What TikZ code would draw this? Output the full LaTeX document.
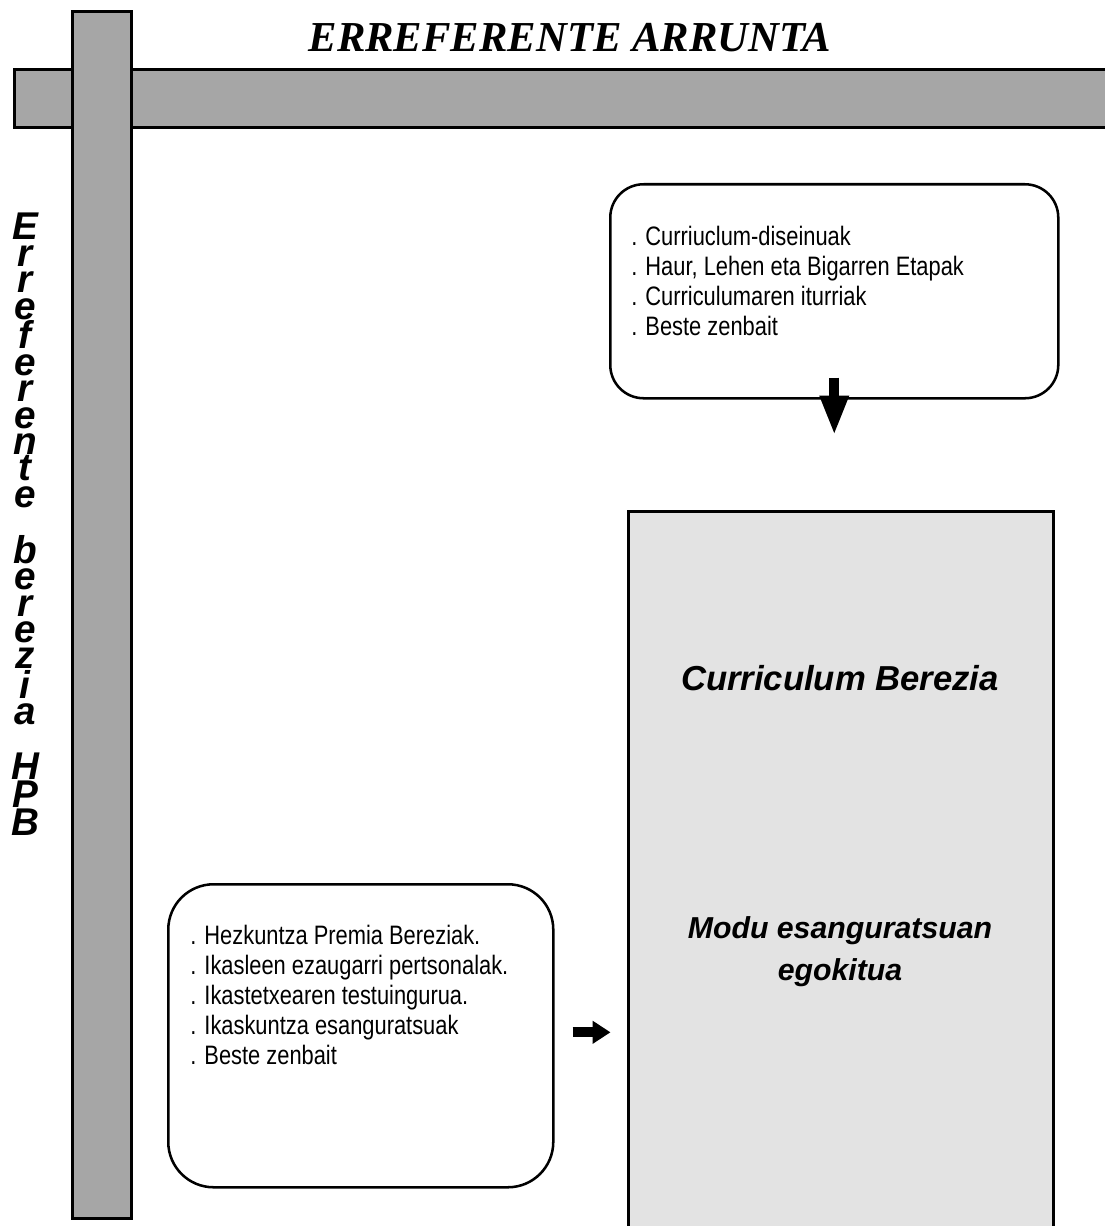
\documentclass[tikz,border=0pt]{standalone}
\usepackage{fontspec}
\setmainfont{Liberation Sans}
\newfontfamily\narrowfont[FakeStretch=0.82]{Liberation Sans}
\newfontfamily\titlefont{Liberation Serif}
\usetikzlibrary{arrows.meta}
\definecolor{bargray}{HTML}{A6A6A6}
\definecolor{boxgray}{HTML}{E3E3E3}
\begin{document}
\begin{tikzpicture}[x=0.75pt,y=-0.75pt,
  bar/.style={fill=bargray, draw=black, line width=2.2pt, inner sep=0pt, anchor=north west},
  rbox/.style={draw=black, line width=1.9pt, fill=white, inner sep=0pt, anchor=north west},
  bigbox/.style={draw=black, line width=2.2pt, fill=boxgray, inner sep=0pt, anchor=north west},
  listtext/.style={font=\narrowfont\fontsize{20}{22.5}\selectfont, align=left, inner sep=0pt, anchor=north west},
  bigtext/.style={font=\bfseries\itshape\fontsize{26}{31.5}\selectfont, align=center, inner sep=0pt},
  subtext/.style={font=\bfseries\itshape\fontsize{22.7}{31.5}\selectfont, align=center, inner sep=0pt},
  vtext/.style={font=\bfseries\itshape\fontsize{29}{19.8}\selectfont, align=center, inner sep=0pt, anchor=north},
  blockarrow/.style={line width=7.5pt, -{Triangle[width=20pt,length=30pt]}},
  smallarrow/.style={line width=7.5pt, -{Triangle[width=16.5pt,length=13.5pt]}}
]
\useasboundingbox (0,0) rectangle (1104,1226);
% bars
\node[bar, minimum width=822.75pt, minimum height=43.5pt] (hbar) at (13,68) {};
\node[bar, minimum width=44.25pt, minimum height=905.25pt] (vbar) at (71,10) {};
% title
\node[font=\titlefont\bfseries\itshape\fontsize{32}{38}\selectfont, anchor=base, inner sep=0pt] (title) at (570,52) {ERREFERENTE ARRUNTA};
% side text
\node[vtext] (side) at (25,213) {\lineskiplimit=-100pt\relax E\\r\\r\\e\\f\\e\\r\\e\\n\\t\\e\\[19.8pt]b\\e\\r\\e\\z\\i\\a\\[19.8pt]H\\P\\B};
% top box
\node[rbox, rounded corners=25pt, minimum width=336pt, minimum height=160.5pt] (src) at (609,183) {};
\node[listtext] (srctext) at (631,226) {. Curriuclum-diseinuak\\. Haur, Lehen eta Bigarren Etapak\\. Curriculumaren iturriak\\. Beste zenbait};
% big box
\node[bigbox, minimum width=318.75pt, minimum height=547.5pt] (cb) at (627,510) {};
\node[bigtext, anchor=base] (cbtitle) at (840,690) {Curriculum Berezia};
\node[subtext, anchor=north] (cbsub) at (840,916) {Modu esanguratsuan\\egokitua};
% bottom box
\node[rbox, rounded corners=34pt, minimum width=288.75pt, minimum height=227.25pt] (hpb) at (167,883) {};
\node[listtext] (hpbtext) at (190,925) {. Hezkuntza Premia Bereziak.\\. Ikasleen ezaugarri pertsonalak.\\. Ikastetxearen testuingurua.\\. Ikaskuntza esanguratsuak\\. Beste zenbait};
% arrows
\coordinate (d1) at ([yshift=16.5pt]src.south);
\coordinate (d2) at ([yshift=-27pt]src.south);
\draw[blockarrow] (d1) -- (d2);
\coordinate (r1) at ([xshift=13.5pt,yshift=2.6pt]hpb.east);
\coordinate (r2) at ([xshift=42pt,yshift=2.6pt]hpb.east);
\draw[smallarrow] (r1) -- (r2);
\end{tikzpicture}
\end{document}
